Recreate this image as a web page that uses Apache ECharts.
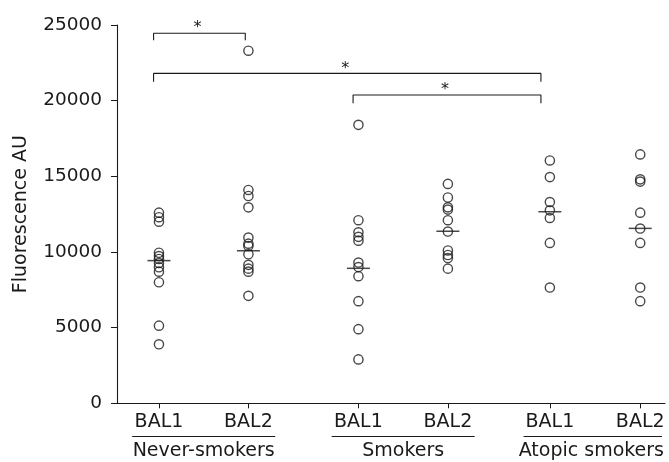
<!DOCTYPE html>
<html>
<head>
<meta charset="utf-8">
<script src="https://cdn.jsdelivr.net/npm/echarts@6/dist/echarts.min.js"></script>
<style>
html,body{margin:0;padding:0;background:#fff;}
#chart{width:669px;height:462px;}
</style>
</head>
<body>
<div id="chart"></div>
<script>
// ---------- DATA ----------
const groups = ['Never-smokers', 'Smokers', 'Atopic smokers'];
const conditions = ['BAL1', 'BAL2'];
const neverBAL1 = [12600, 12300, 12000, 9950, 9730, 9540, 9270, 8990, 8700, 8000, 5130, 3900];
const neverBAL2 = [23300, 14100, 13700, 12950, 10950, 10550, 10400, 9850, 9150, 8900, 8700, 7100];
const smokersBAL1 = [18400, 12100, 11300, 11000, 10750, 9300, 9000, 8400, 6750, 4900, 2900];
const smokersBAL2 = [14500, 13600, 12950, 12800, 12100, 11350, 10100, 9800, 9600, 8900];
const atopicBAL1 = [16050, 14950, 13300, 12750, 12250, 10600, 7650];
const atopicBAL2 = [16450, 14800, 14650, 12600, 11550, 10600, 7650, 6750];
const medians = [9430, 10080, 8920, 11370, 12660, 11560];
const yTickValues = [0, 5000, 10000, 15000, 20000, 25000];
// significance brackets: column indices, bar level, end-drop level
const bracketFrom = [0, 0, 2];
const bracketTo = [1, 4, 4];
const bracketLevel = [24450, 21800, 20370];
const bracketDrop = [24000, 21250, 19830];
const bracketMark = ['*', '*', '*'];

// ---------- LAYOUT ----------
const columns = [neverBAL1, neverBAL2, smokersBAL1, smokersBAL2, atopicBAL1, atopicBAL2];
const colPos = [1, 2, 3.23, 4.23, 5.37, 6.38];
const bracketLeftOff = [-0.06, -0.06, -0.06];
const bracketRightOff = [-0.035, -0.1, -0.1];
const FONT = 'DejaVu Sans';
const FS = 19;
const INK = '#1a1a1a';

const chart = echarts.init(document.getElementById('chart'), null, {renderer: 'canvas'});

const series = [];
columns.forEach((vals, i) => {
  series.push({
    type: 'scatter',
    data: vals.map(v => [colPos[i], v]),
    symbol: 'circle',
    symbolSize: 9.2,
    itemStyle: {color: 'rgba(255,255,255,0)', borderColor: INK, borderWidth: 1.4},
    silent: true,
    z: 3
  });
});
series.push({
  type: 'scatter',
  data: medians.map((m, i) => [colPos[i], m]),
  symbol: 'rect',
  symbolSize: [23, 1.5],
  itemStyle: {color: INK},
  silent: true,
  z: 4
});
bracketFrom.forEach((f, k) => {
  const x1 = colPos[f] + bracketLeftOff[k];
  const x2 = colPos[bracketTo[k]] + bracketRightOff[k];
  series.push({
    type: 'line',
    data: [[x1, bracketDrop[k]], [x1, bracketLevel[k]], [x2, bracketLevel[k]], [x2, bracketDrop[k]]],
    symbol: 'none',
    lineStyle: {color: INK, width: 1.1},
    silent: true,
    clip: false,
    z: 2
  });
});

chart.setOption({
  animation: false,
  backgroundColor: '#fff',
  grid: {left: 117, right: 4, top: 25, bottom: 58.7, containLabel: false},
  xAxis: {
    type: 'value',
    min: 0.531,
    max: 6.657,
    splitLine: {show: false},
    axisLine: {show: true, lineStyle: {color: INK, width: 1.1}},
    axisTick: {show: true, customValues: colPos, length: 5, lineStyle: {color: INK}},
    axisLabel: {
      show: true,
      customValues: colPos,
      formatter: (v) => conditions[colPos.indexOf(v) % 2],
      fontFamily: FONT, fontSize: FS, color: INK, margin: 9
    }
  },
  yAxis: {
    type: 'value',
    min: 0, max: 25000, interval: 5000,
    name: 'Fluorescence AU',
    nameLocation: 'middle',
    nameRotate: 90,
    nameGap: 86,
    nameTextStyle: {fontFamily: FONT, fontSize: FS, color: INK},
    splitLine: {show: false},
    axisLine: {show: true, lineStyle: {color: INK, width: 1.1}},
    axisTick: {show: true, length: 6, lineStyle: {color: INK}},
    axisLabel: {fontFamily: FONT, fontSize: 18.5, color: INK, margin: 15,
      formatter: (v) => yTickValues.includes(v) ? String(v) : ''}
  },
  series: series
});

// group underlines, group labels and significance marks
const px = (x, y) => chart.convertToPixel({gridIndex: 0}, [x, y]);
const graphics = [];
groups.forEach((g, gi) => {
  const a = px(colPos[gi * 2], 0)[0];
  const b = px(colPos[gi * 2 + 1], 0)[0];
  const mid = (a + b) / 2;
  const half = 71.5;
  const tw = echarts.format.getTextRect ? echarts.format.getTextRect(g, FS + 'px ' + FONT).width : 140;
  const cx = Math.min(mid, 664 - tw / 2);
  graphics.push({
    type: 'line', silent: true,
    shape: {x1: mid - half, y1: 436.5, x2: Math.min(mid + half, 662), y2: 436.5},
    style: {stroke: INK, lineWidth: 1.1}
  });
  graphics.push({
    type: 'text', silent: true,
    x: cx, y: 451,
    style: {text: g, fontFamily: FONT, fontSize: FS, fill: INK, align: 'center', verticalAlign: 'middle'}
  });
});
bracketFrom.forEach((f, k) => {
  const x1 = colPos[f] + bracketLeftOff[k];
  const x2 = colPos[bracketTo[k]] + bracketRightOff[k];
  const p = px((x1 + x2) / 2, bracketLevel[k]);
  graphics.push({
    type: 'text', silent: true,
    x: p[0] - 2, y: p[1] - 5,
    style: {text: bracketMark[k], fontFamily: FONT, fontSize: 16, fill: INK, align: 'center', verticalAlign: 'middle'}
  });
});
chart.setOption({graphic: graphics});
</script>
</body>
</html>
